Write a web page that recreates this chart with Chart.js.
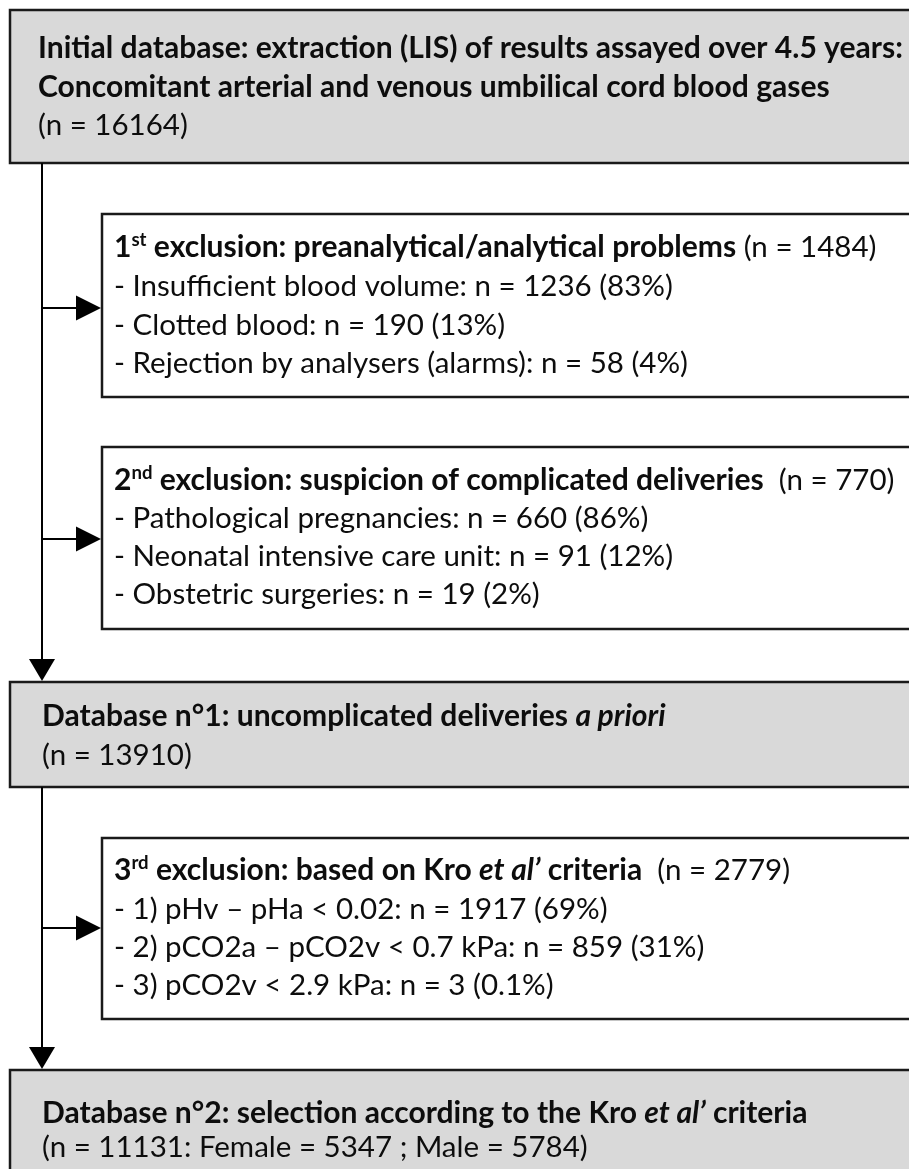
<!DOCTYPE html>
<html>
<head>
<meta charset="utf-8">
<script src="https://cdn.jsdelivr.net/npm/chart.js@4.4.1/dist/chart.umd.min.js"></script>
<style>
  html, body { margin: 0; padding: 0; background: #fff; }
  #wrap { width: 909px; height: 1169px; }
</style>
</head>
<body>
<div id="wrap"><canvas id="flowChart" width="909" height="1169"></canvas></div>
<script>
// counts
var initialTotal = 16164;
var db1Total = 13910;
var db2Total = 11131;
var db2Female = 5347;
var db2Male = 5784;

var excl1Total = 1484;
var excl1Labels = ['Insufficient blood volume', 'Clotted blood', 'Rejection by analysers (alarms)'];
var excl1Counts = [1236, 190, 58];
var excl1Pct = ['83%', '13%', '4%'];

var excl2Total = 770;
var excl2Labels = ['Pathological pregnancies', 'Neonatal intensive care unit', 'Obstetric surgeries'];
var excl2Counts = [660, 91, 19];
var excl2Pct = ['86%', '12%', '2%'];

var excl3Total = 2779;
var excl3Labels = ['1) pHv \u2013 pHa < 0.02', '2) pCO2a \u2013 pCO2v < 0.7 kPa', '3) pCO2v < 2.9 kPa'];
var excl3Counts = [1917, 859, 3];
var excl3Pct = ['69%', '31%', '0.1%'];

function itemLines(labels, counts, pct) {
  return labels.map(function(l, i) {
    return [['n', '- ' + l + ': n = ' + counts[i] + ' (' + pct[i] + ')']];
  });
}

var box1Lines = [
  [['b', 'Initial database: extraction (LIS) of results assayed over 4.5 years:']],
  [['b', 'Concomitant arterial and venous umbilical cord blood gases']],
  [['n', '(n = ' + initialTotal + ')']]
];
var box2Lines = [[['b', '1'], ['bs', 'st'], ['b', ' exclusion: preanalytical/analytical problems'], ['n', ' (n = ' + excl1Total + ')']]]
  .concat(itemLines(excl1Labels, excl1Counts, excl1Pct));
var box3Lines = [[['b', '2'], ['bs', 'nd'], ['b', ' exclusion: suspicion of complicated deliveries'], ['n', '  (n = ' + excl2Total + ')']]]
  .concat(itemLines(excl2Labels, excl2Counts, excl2Pct));
var box4Lines = [
  [['b', 'Database n\u00b01: uncomplicated deliveries '], ['bi', 'a priori']],
  [['n', '(n = ' + db1Total + ')']]
];
var box5Lines = [[['b', '3'], ['bs', 'rd'], ['b', ' exclusion: based on Kro '], ['bi', 'et al\u2019'], ['b', ' criteria'], ['n', '  (n = ' + excl3Total + ')']]]
  .concat(itemLines(excl3Labels, excl3Counts, excl3Pct));
var box6Lines = [
  [['b', 'Database n\u00b02: selection according to the Kro '], ['bi', 'et al\u2019'], ['b', ' criteria']],
  [['n', '(n = ' + db2Total + ': Female = ' + db2Female + ' ; Male = ' + db2Male + ')']]
];

// layout, in axis units (axes span the whole canvas)
var GRAY = '#d9d9d9';
var boxes = [
  { x0: 10,  x1: 960, y0: 10,   y1: 163,  fill: GRAY,   tx: 38,  base: [58, 96.5, 135], lines: box1Lines },
  { x0: 102, x1: 960, y0: 214,  y1: 397,  fill: '#fff', tx: 114, base: [257, 296, 334.5, 373], lines: box2Lines },
  { x0: 102, x1: 960, y0: 447,  y1: 629,  fill: '#fff', tx: 114, base: [490, 528, 566, 604], lines: box3Lines },
  { x0: 10,  x1: 960, y0: 682,  y1: 787,  fill: GRAY,   tx: 42,  base: [726, 765], lines: box4Lines },
  { x0: 102, x1: 960, y0: 838,  y1: 1019, fill: '#fff', tx: 114, base: [880, 919, 957, 995], lines: box5Lines },
  { x0: 10,  x1: 960, y0: 1070, y1: 1230, fill: GRAY,   tx: 42,  base: [1123, 1157], lines: box6Lines }
];
var spines = [
  { x: 42, y0: 163, y1: 682 },
  { x: 42, y0: 787, y1: 1070 }
];
var branches = [
  { y: 308, x0: 42, x1: 102 },
  { y: 539, x0: 42, x1: 102 },
  { y: 928, x0: 42, x1: 102 }
];

var FAMILY = 'Lato, "Open Sans", sans-serif';
var sizes = null;

function runFont(style, sz) {
  var bold = style.indexOf('b') >= 0 ? 'bold ' : '';
  var ital = style.indexOf('i') >= 0 ? 'italic ' : '';
  var s = style.indexOf('s') >= 0 ? sz.b * 0.62 : (bold ? sz.b : sz.n);
  return ital + bold + s.toFixed(2) + 'px ' + FAMILY;
}

function fitSizes(ctx) {
  ctx.font = 'bold 100px ' + FAMILY;
  var wb = ctx.measureText(box1Lines[0][0][1]).width;
  ctx.font = '100px ' + FAMILY;
  var wn = ctx.measureText(box2Lines[1][0][1]).width;
  return { b: 100 * 865 / wb, n: 100 * 559 / wn };
}

var flowPlugin = {
  id: 'flow',
  afterDraw: function(chart) {
    var ctx = chart.ctx;
    var xs = chart.scales.x, ys = chart.scales.y;
    var px = function(v) { return xs.getPixelForValue(v); };
    var py = function(v) { return ys.getPixelForValue(v); };
    if (!sizes) sizes = fitSizes(ctx);

    ctx.save();
    // boxes
    boxes.forEach(function(b) {
      var x0 = px(b.x0), x1 = px(b.x1), y0 = py(b.y0), y1 = py(b.y1);
      ctx.fillStyle = b.fill;
      ctx.fillRect(x0, y0, x1 - x0, y1 - y0);
      ctx.strokeStyle = '#1a1a1a';
      ctx.lineWidth = 2.5;
      ctx.strokeRect(x0, y0, x1 - x0, y1 - y0);
    });

    // connectors
    ctx.strokeStyle = '#000';
    ctx.fillStyle = '#000';
    ctx.lineWidth = 2;
    spines.forEach(function(s) {
      var x = px(s.x), y0 = py(s.y0), y1 = py(s.y1);
      ctx.beginPath();
      ctx.moveTo(x, y0);
      ctx.lineTo(x, y1 - 20);
      ctx.stroke();
      ctx.beginPath();
      ctx.moveTo(x - 13, y1 - 23);
      ctx.lineTo(x + 13, y1 - 23);
      ctx.lineTo(x, y1 - 1);
      ctx.closePath();
      ctx.fill();
    });
    branches.forEach(function(b) {
      var y = py(b.y), x0 = px(b.x0), x1 = px(b.x1);
      ctx.beginPath();
      ctx.moveTo(x0, y);
      ctx.lineTo(x1 - 22, y);
      ctx.stroke();
      ctx.beginPath();
      ctx.moveTo(x1 - 26, y - 12.5);
      ctx.lineTo(x1 - 26, y + 12.5);
      ctx.lineTo(x1 - 1, y);
      ctx.closePath();
      ctx.fill();
    });

    // text
    ctx.fillStyle = '#0d0d0d';
    ctx.textBaseline = 'alphabetic';
    ctx.textAlign = 'left';
    boxes.forEach(function(b) {
      b.lines.forEach(function(line, i) {
        var x = px(b.tx), y = py(b.base[i]);
        line.forEach(function(run) {
          ctx.font = runFont(run[0], sizes);
          var dy = run[0].indexOf('s') >= 0 ? -sizes.b * 0.36 : 0;
          ctx.fillText(run[1], x, y + dy);
          x += ctx.measureText(run[1]).width;
        });
      });
    });
    ctx.restore();
  }
};

var chart = new Chart(document.getElementById('flowChart').getContext('2d'), {
  type: 'scatter',
  data: { datasets: [{ data: [], pointRadius: 0 }] },
  options: {
    responsive: false,
    animation: false,
    layout: { padding: 0 },
    plugins: { legend: { display: false }, tooltip: { enabled: false } },
    scales: {
      x: { type: 'linear', min: 0, max: 909, display: false },
      y: { type: 'linear', min: 0, max: 1169, reverse: true, display: false }
    }
  },
  plugins: [flowPlugin]
});
</script>
</body>
</html>
